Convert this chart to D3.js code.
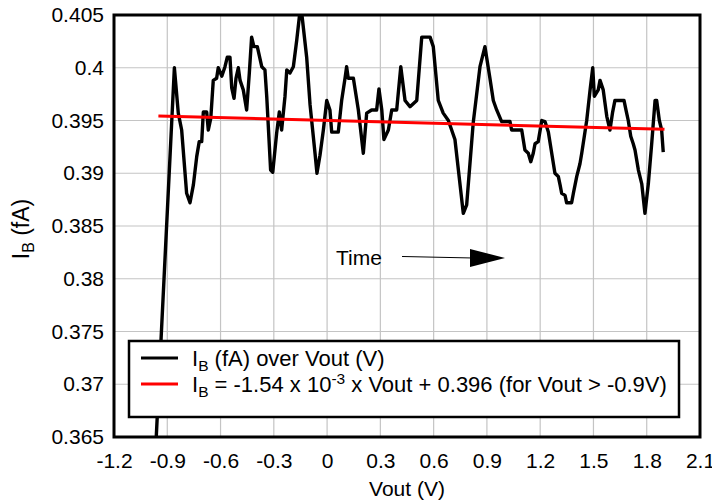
<!DOCTYPE html>
<html><head><meta charset="utf-8">
<script src="https://cdn.jsdelivr.net/npm/d3@7"></script>
<style>
body{margin:0;background:#fff;}
svg text{font-family:"Liberation Sans",Arial,sans-serif;fill:#000;}
</style></head>
<body><svg id="c" width="712" height="503"></svg>
<script>
const xTicks = [-1.2,-0.9,-0.6,-0.3,0,0.3,0.6,0.9,1.2,1.5,1.8,2.1];
const xTickLabels = ["-1.2","-0.9","-0.6","-0.3","0","0.3","0.6","0.9","1.2","1.5","1.8","2.1"];
const yTicks = [0.365,0.37,0.375,0.38,0.385,0.39,0.395,0.4,0.405];
const yTickLabels = ["0.365","0.37","0.375","0.38","0.385","0.39","0.395","0.4","0.405"];

// Measured I_B (fA) vs Vout (V)
const vout = [-0.965,-0.860,-0.838,-0.819,-0.791,-0.772,-0.753,-0.734,-0.720,-0.706,-0.697,-0.678,-0.669,-0.655,-0.641,-0.622,-0.613,-0.593,-0.575,-0.562,-0.547,-0.537,-0.524,-0.513,-0.500,-0.490,-0.472,-0.453,-0.438,-0.425,-0.412,-0.393,-0.368,-0.350,-0.340,-0.318,-0.306,-0.284,-0.269,-0.256,-0.237,-0.227,-0.209,-0.190,-0.171,-0.155,-0.141,-0.115,-0.096,-0.068,-0.057,-0.040,-0.021,-0.002,0.016,0.026,0.063,0.082,0.101,0.110,0.119,0.148,0.176,0.204,0.223,0.251,0.279,0.292,0.308,0.320,0.345,0.364,0.392,0.415,0.439,0.467,0.505,0.533,0.580,0.598,0.626,0.654,0.683,0.720,0.767,0.786,0.823,0.861,0.889,0.917,0.936,0.955,0.983,1.030,1.039,1.096,1.114,1.133,1.147,1.161,1.171,1.189,1.209,1.227,1.246,1.265,1.283,1.302,1.312,1.321,1.340,1.349,1.377,1.387,1.406,1.424,1.434,1.462,1.481,1.496,1.505,1.527,1.537,1.555,1.575,1.593,1.608,1.621,1.672,1.683,1.696,1.710,1.724,1.734,1.753,1.772,1.790,1.809,1.828,1.847,1.856,1.871,1.884,1.893];
const ib = [0.3640,0.4000,0.3957,0.3941,0.3881,0.3872,0.3889,0.3916,0.3930,0.3930,0.3958,0.3958,0.3941,0.3952,0.3988,0.3990,0.4000,0.3992,0.4001,0.4010,0.4010,0.3981,0.3971,0.3990,0.4000,0.3988,0.3979,0.3960,0.3995,0.4029,0.4020,0.4020,0.4001,0.3998,0.3973,0.3903,0.3901,0.3938,0.3958,0.3941,0.3973,0.3998,0.3995,0.4001,0.4026,0.4050,0.4049,0.4010,0.3965,0.3919,0.3900,0.3917,0.3941,0.3969,0.3960,0.3939,0.3939,0.3969,0.3990,0.4001,0.3990,0.3990,0.3960,0.3919,0.3957,0.3960,0.3960,0.3980,0.3960,0.3932,0.3941,0.3960,0.3960,0.4001,0.3969,0.3963,0.3969,0.4029,0.4029,0.4020,0.3969,0.3957,0.3950,0.3932,0.3862,0.3870,0.3948,0.4001,0.4020,0.3990,0.3969,0.3960,0.3949,0.3949,0.3941,0.3941,0.3922,0.3919,0.3911,0.3919,0.3928,0.3930,0.3950,0.3949,0.3939,0.3919,0.3900,0.3897,0.3889,0.3881,0.3879,0.3872,0.3872,0.3881,0.3897,0.3909,0.3919,0.3950,0.3979,0.4000,0.3973,0.3979,0.3988,0.3979,0.3954,0.3941,0.3958,0.3969,0.3969,0.3960,0.3950,0.3935,0.3928,0.3922,0.3903,0.3890,0.3862,0.3890,0.3928,0.3969,0.3969,0.3950,0.3941,0.3920];

// Linear fit line endpoints as drawn
const fitVout = [-0.95, 1.90];
const fitIb = [0.39543, 0.39417];

// Annotation arrow "Time"
const arrowVout = [0.422, 1.002];
const arrowIb = [0.38211, 0.38197];

const svg = d3.select("#c");
const L=114,R=700,T=15,B=437;
const FS = "21px";
const x = d3.scaleLinear().domain([-1.2,2.1]).range([L,R]);
const y = d3.scaleLinear().domain([0.365,0.405]).range([B,T]);

// grid
svg.append("g").selectAll("line").data(xTicks).join("line")
  .attr("x1",d=>x(d)).attr("x2",d=>x(d)).attr("y1",T).attr("y2",B)
  .attr("stroke","#c4c4c4").attr("stroke-width",1.2);
svg.append("g").selectAll("line").data(yTicks).join("line")
  .attr("x1",L).attr("x2",R).attr("y1",d=>y(d)).attr("y2",d=>y(d))
  .attr("stroke","#c4c4c4").attr("stroke-width",1.2);

// axes
const xa = svg.append("g").attr("transform",`translate(0,${B})`)
  .call(d3.axisBottom(x).tickValues(xTicks).tickSize(0).tickPadding(16)
    .tickFormat((d,i)=>xTickLabels[i]));
const ya = svg.append("g").attr("transform",`translate(${L},0)`)
  .call(d3.axisLeft(y).tickValues(yTicks).tickSize(0).tickPadding(10)
    .tickFormat((d,i)=>yTickLabels[i]));
[xa,ya].forEach(a=>{a.select(".domain").remove();
  a.selectAll("text").style("font-family","Liberation Sans, Arial, sans-serif").style("font-size",FS).attr("fill","#000");});

// clip
svg.append("clipPath").attr("id","pc").append("rect")
  .attr("x",L).attr("y",T).attr("width",R-L).attr("height",B-T);

const pts = vout.map((v,i)=>[v,ib[i]]);
svg.append("path").datum(pts).attr("clip-path","url(#pc)")
  .attr("d",d3.line().x(d=>x(d[0])).y(d=>y(d[1])))
  .attr("fill","none").attr("stroke","#000").attr("stroke-width",3.4).attr("stroke-linejoin","round");

svg.append("path").datum(fitVout.map((v,i)=>[v,fitIb[i]]))
  .attr("d",d3.line().x(d=>x(d[0])).y(d=>y(d[1])))
  .attr("fill","none").attr("stroke","#ff0000").attr("stroke-width",3);

// Time annotation
svg.append("text").attr("x",336).attr("y",265).style("font-size",FS).text("Time");
const ax0=x(arrowVout[0]), ay0=y(arrowIb[0]), ax1=x(arrowVout[1]), ay1=y(arrowIb[1]);
svg.append("line").attr("x1",ax0).attr("y1",ay0).attr("x2",ax1-34).attr("y2",ay1)
  .attr("stroke","#000").attr("stroke-width",1);
svg.append("path").attr("d",`M${ax1},${ay1} L${ax1-35},${ay1-9} L${ax1-35},${ay1+9} Z`).attr("fill","#000");

// frame
svg.append("rect").attr("x",L).attr("y",T).attr("width",R-L).attr("height",B-T)
  .attr("fill","none").attr("stroke","#000").attr("stroke-width",3);

// axis titles
svg.append("text").attr("x",x(0.45)).attr("y",496).attr("text-anchor","middle").style("font-size",FS).text("Vout (V)");
const yt = svg.append("text").attr("transform","translate(29,229) rotate(-90)").attr("text-anchor","middle").style("font-size","23px");
yt.append("tspan").text("I");
yt.append("tspan").attr("dy",5).style("font-size","16px").text("B");
yt.append("tspan").attr("dy",-5).text(" (fA)");

// legend
const lg = svg.append("g");
lg.append("rect").attr("x",129).attr("y",341).attr("width",550).attr("height",76)
  .attr("fill","#fff").attr("stroke","#000").attr("stroke-width",2.5);
lg.append("line").attr("x1",141).attr("x2",178).attr("y1",358).attr("y2",358).attr("stroke","#000").attr("stroke-width",3);
lg.append("line").attr("x1",141).attr("x2",178).attr("y1",384).attr("y2",384).attr("stroke","#ff0000").attr("stroke-width",3);
const t1 = lg.append("text").attr("x",192).attr("y",366).style("font-size","22px");
t1.append("tspan").text("I");
t1.append("tspan").attr("dy",5).style("font-size","15.5px").text("B");
t1.append("tspan").attr("dy",-5).text(" (fA) over Vout (V)");
const t2 = lg.append("text").attr("x",192).attr("y",392).style("font-size","22px");
t2.append("tspan").text("I");
t2.append("tspan").attr("dy",5).style("font-size","15.5px").text("B");
t2.append("tspan").attr("dy",-5).text(" = -1.54 x 10");
t2.append("tspan").attr("dy",-8).style("font-size","15.5px").text("-3");
t2.append("tspan").attr("dy",8).text(" x Vout + 0.396 (for Vout > -0.9V)");
</script></body></html>
